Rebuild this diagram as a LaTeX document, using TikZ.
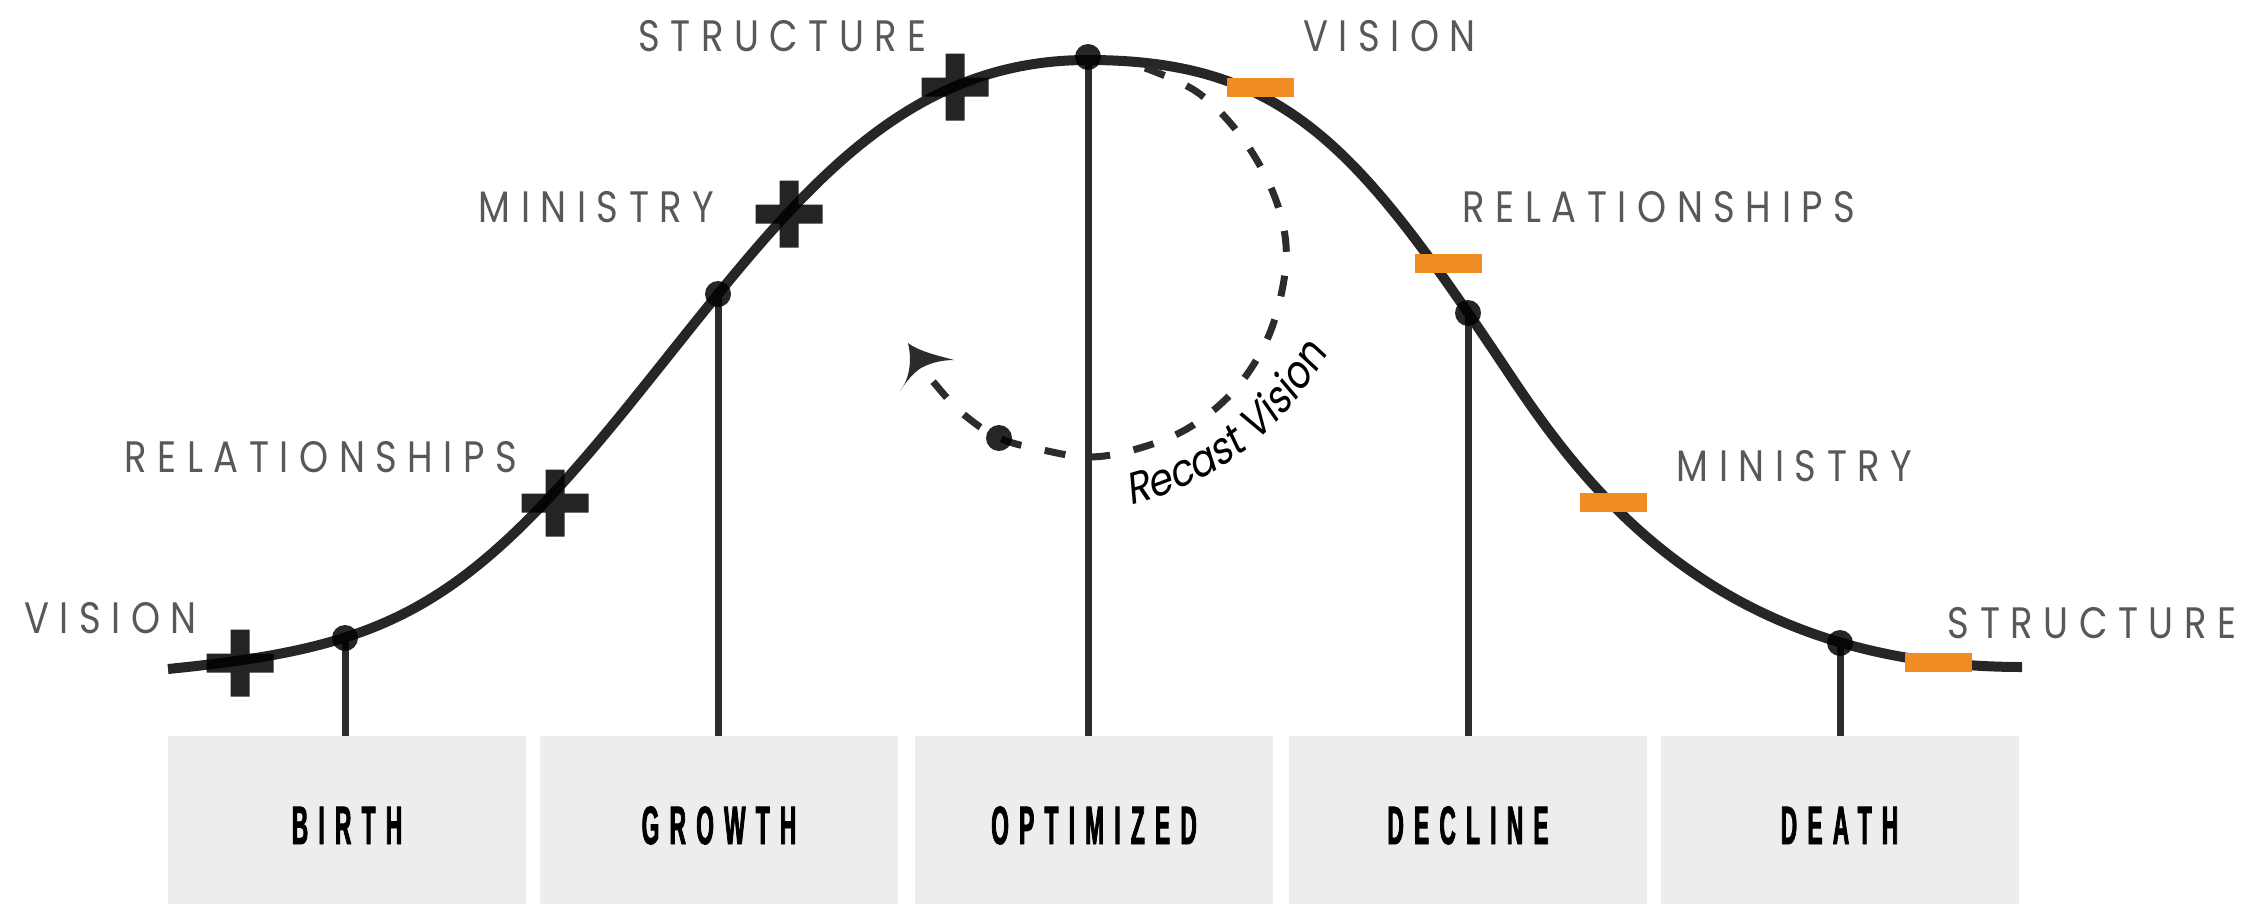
\documentclass[tikz,border=0pt]{standalone}
\usepackage{fontspec}
\setmainfont{Poppins}
\newfontfamily\labelfont{Poppins}[FakeStretch=0.84, LetterSpace=24]
\newfontfamily\stagefont{Liberation Sans}[FakeStretch=0.42, FakeBold=1.5, LetterSpace=19]
\newfontfamily\recastfont{Poppins}[FakeStretch=0.88, FakeSlant=0.2]
\usetikzlibrary{decorations.text}
\definecolor{lifeline}{HTML}{2C2C2C}
\definecolor{labelgray}{HTML}{58585A}
\definecolor{minusorange}{HTML}{F08C21}
\definecolor{stagegray}{HTML}{EDEDED}
\tikzset{
    plusmark/.pic={
		\fill[black, fill opacity=0.86] (-33.5,-9.5) -- (-9.5,-9.5) -- (-9.5,-33.5) -- (9.5,-33.5) -- (9.5,-9.5) -- (33.5,-9.5)
			-- (33.5,9.5) -- (9.5,9.5) -- (9.5,33.5) -- (-9.5,33.5) -- (-9.5,9.5) -- (-33.5,9.5) -- cycle;
	}
}
\tikzset{
    minusmark/.pic={
		\fill[minusorange] (-33.5,-9.5) rectangle (33.5,9.5);
	}
}
\tikzset{
    stage/.style={fill=stagegray, minimum width=358pt, minimum height=168pt, inner sep=0pt,
		text height=48pt, text depth=0pt, font=\stagefont\bfseries\fontsize{54}{60}\selectfont},
    lbl/.style={text=labelgray, inner sep=0pt, font=\labelfont\fontsize{44}{50}\selectfont},
    lifecurve/.style={draw=black, draw opacity=0.85, line width=10pt},
    stem/.style={draw=lifeline, line width=7pt},
    dot/.style={fill=black, fill opacity=0.85},
    recastline/.style={draw=lifeline, line width=7pt, dash pattern=on 21pt off 24pt}
}

\begin{document}
\begin{tikzpicture}[x=1pt, y=-1pt]
			\useasboundingbox (0,0) rectangle (2243,908);
			% stages
			\node[stage] (birth) at (347,820) {BIRTH};
			\node[stage] (growth) at (719,820) {GROWTH};
			\node[stage] (optimized) at (1094,820) {OPTIMIZED};
			\node[stage] (decline) at (1468,820) {DECLINE};
			\node[stage] (death) at (1839.5,820) {DEATH};
			% life cycle
			\draw[lifecurve] (168,669) .. controls (388,647) and (463,611) .. (633,400)
				.. controls (783,214) and (888,60) .. (1088,60)
				.. controls (1288,60) and (1360,150) .. (1510,375)
				.. controls (1590,495) and (1722,667) .. (2022,667);
			\coordinate (dBirth) at (345,638);
			\coordinate (dGrowth) at (718,294);
			\coordinate (dOptimized) at (1088,57);
			\coordinate (dDecline) at (1468,313);
			\coordinate (dDeath) at (1840,643);
			\draw[stem] (dBirth) -- (dBirth |- birth.north);
			\draw[stem] (dGrowth) -- (dGrowth |- growth.north);
			\draw[stem] (dOptimized) -- (dOptimized |- optimized.north);
			\draw[stem] (dDecline) -- (dDecline |- decline.north);
			\draw[stem] (dDeath) -- (dDeath |- death.north);
			\foreach \d in {dBirth,dGrowth,dOptimized,dDecline,dDeath}
				\fill[dot] (\d) circle (13);
			% plus side
			\pic at (240,663) {plusmark};
			\pic at (555,503) {plusmark};
			\pic at (789,214) {plusmark};
			\pic at (955,87) {plusmark};
			\node[lbl] (visionUp) at (110.5,618) {VISION};
			\node[lbl] (relUp) at (321,457.5) {RELATIONSHIPS};
			\node[lbl] (minUp) at (596.5,207.5) {MINISTRY};
			\node[lbl] (structUp) at (782.5,36) {STRUCTURE};
			% minus side
			\pic at (1260.5,87.5) {minusmark};
			\pic at (1448.5,263.5) {minusmark};
			\pic at (1613.5,502.5) {minusmark};
			\pic at (1938.5,662.5) {minusmark};
			\node[lbl] (visionDown) at (1389.5,36) {VISION};
			\node[lbl] (relDown) at (1659,207.5) {RELATIONSHIPS};
			\node[lbl] (minDown) at (1794.5,466) {MINISTRY};
			\node[lbl] (structDown) at (2092,623.5) {STRUCTURE};
			% recast
			\coordinate (recastTip) at (908,343);
			\coordinate (recastNotch) at (921,368);
			\draw[recastline] plot[smooth, tension=0.6] coordinates {(1145,68) (1197,92) (1240,135) (1272,190) (1286,245)
				(1280,300) (1262,350) (1230,395) (1185,430) (1133,450) (1088,457) (1043,450) (999,438) (962,413) (936,385)}
				-- (recastNotch);
			\fill[lifeline] (recastTip) .. controls (912,360) and (910,378) .. (900,391)
				.. controls (906,382) and (913,373) .. (recastNotch)
				.. controls (932,362) and (944,360) .. (954,360)
				.. controls (940,356) and (920,352) .. (recastTip) -- cycle;
			\coordinate (dRecast) at (999,438);
			\fill[dot] (dRecast) circle (13);
			\path[decorate, decoration={text along path, text align=center,
				text={|\recastfont\fontsize{44}{52}\selectfont|Recast Vision}}]
				(1100,512) .. controls (1212,492) and (1292,432) .. (1342,326);
		\end{tikzpicture}
\end{document}
